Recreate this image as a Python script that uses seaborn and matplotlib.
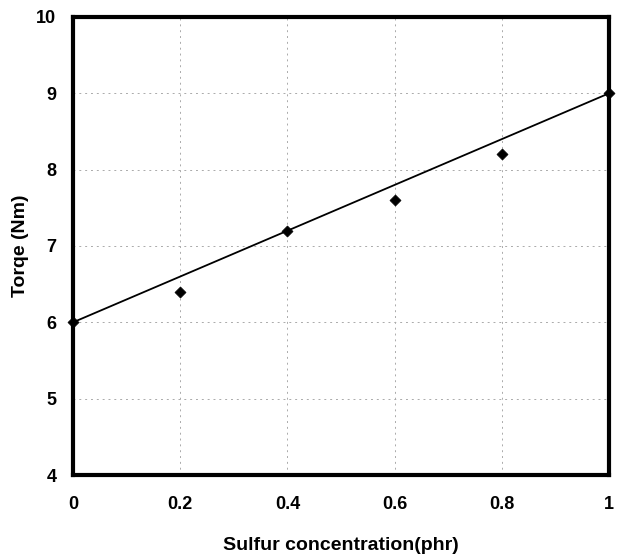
import numpy as np
import pandas as pd
import matplotlib.pyplot as plt
import seaborn as sns

# measured torque vs sulfur
sulfur = [0.0, 0.2, 0.4, 0.6, 0.8, 1.0]
torque = [6.0, 6.4, 7.2, 7.6, 8.2, 9.0]

# trend line end points
trend_x = [0.0, 1.0]
trend_y = [6.0, 9.0]

sns.set_style("white")
plt.rcParams['font.family'] = ['Liberation Sans', 'DejaVu Sans']
plt.rcParams['text.color'] = 'black'
plt.rcParams['axes.labelcolor'] = 'black'
plt.rcParams['xtick.color'] = 'black'
plt.rcParams['ytick.color'] = 'black'

fig = plt.figure(figsize=(6.27, 5.57), dpi=100)
ax = fig.add_axes([0.1164, 0.1472, 0.8549, 0.8223])

pts = pd.DataFrame({'x': sulfur, 'y': torque})
line = pd.DataFrame({'x': trend_x, 'y': trend_y})

sns.lineplot(data=line, x='x', y='y', color='black', linewidth=1.3, ax=ax, zorder=3)
sns.scatterplot(data=pts, x='x', y='y', marker='D', color='black', s=32, edgecolor='black', ax=ax, zorder=4, clip_on=False)

ax.set_xlim(0, 1)
ax.set_ylim(4, 10)
ax.set_xticks([0, 0.2, 0.4, 0.6, 0.8, 1])
ax.set_xticklabels(['0', '0.2', '0.4', '0.6', '0.8', '1'])
ax.set_yticks([4, 5, 6, 7, 8, 9, 10])

ax.grid(True, color='#aaaaaa', linestyle=(0, (2, 4)), linewidth=0.7)
for s in ax.spines.values():
    s.set_linewidth(3)
    s.set_color('black')

ax.tick_params(axis='x', length=0, pad=15, labelsize=13, labelcolor='black')
ax.tick_params(axis='y', length=0, pad=12, labelsize=13, labelcolor='black')
for t in ax.get_xticklabels() + ax.get_yticklabels():
    t.set_fontweight('bold')

ax.set_xlabel('Sulfur concentration(phr)', fontsize=14, fontweight='bold', va='center', color='black')
ax.set_ylabel('Torqe (Nm)', fontsize=14, fontweight='bold', va='center', color='black')
ax.xaxis.set_label_coords(0.5, -0.153)
ax.yaxis.set_label_coords(-0.097, 0.5)

fig.savefig('out.png', dpi=100)
